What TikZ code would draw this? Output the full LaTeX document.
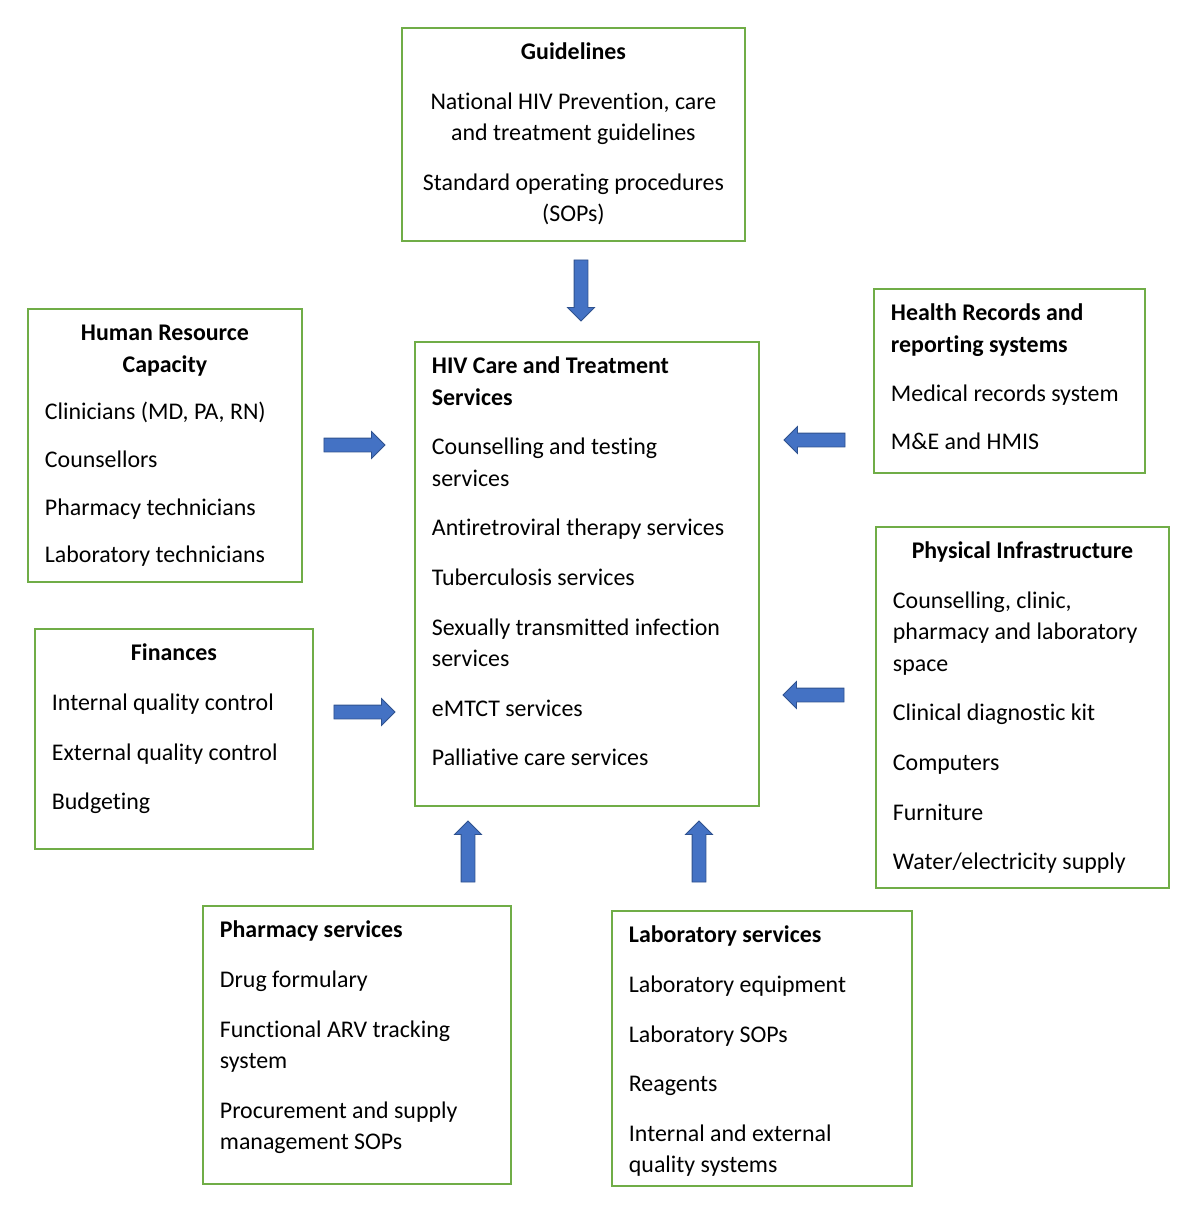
\documentclass[tikz,border=0pt]{standalone}
\usepackage{fontspec}
\setmainfont{Carlito}[Ligatures=NoCommon]
\usetikzlibrary{shapes.arrows}
\definecolor{boxgreen}{HTML}{70AD47}
\definecolor{arrowblue}{HTML}{4472C4}
\definecolor{arrowline}{HTML}{2F528F}
\newlength\pxu
\setlength\pxu{0.025cm}
% box body: [item gap], width, height (in px), contents
\newcommand\panelbody[4][13pt]{\parbox[c][\dimexpr#3\pxu-20\pxu\relax][t]{\dimexpr#2\pxu-34\pxu\relax}{\raggedright\setlength{\parskip}{#1}\strut#4}}
\newcommand\paneltitle[1]{{\centering\bfseries#1\par}}
\tikzset{
  panel/.style={draw=boxgreen, line width=1.3pt, anchor=north west, inner xsep=17\pxu, inner ysep=10\pxu,
    font=\fontsize{17}{22.3}\selectfont},
  blockarrow/.style={single arrow, fill=arrowblue, draw=arrowline, line width=0.6pt, inner sep=6.5\pxu,
    minimum height=61\pxu, minimum width=26\pxu, single arrow head extend=6.5\pxu}
}
\begin{document}
\begin{tikzpicture}[x=\pxu, y=-\pxu]
    \useasboundingbox (0,0) rectangle (1200,1218);
    % boxes
    \node[panel] (guide) at (401,27) {\panelbody{343}{213}{\centering{\bfseries Guidelines\par}
        National HIV Prevention, care\\and treatment guidelines\par
        Standard operating procedures\\(SOPs)}};
    \node[panel] (hr) at (27,308) {\panelbody[11.6pt]{274}{273}{\paneltitle{Human Resource\\Capacity}
        Clinicians (MD, PA, RN)\par Counsellors\par Pharmacy technicians\par Laboratory technicians}};
    \node[panel] (hiv) at (414,341) {\panelbody{344}{464}{{\bfseries HIV Care and Treatment\\Services\par}
        Counselling and testing\\services\par
        Antiretroviral therapy services\par
        Tuberculosis services\par
        Sexually transmitted infection\\services\par
        eMTCT services\par
        Palliative care services}};
    \node[panel] (rec) at (873,288) {\panelbody[12.4pt]{271}{184}{{\bfseries Health Records and\\reporting systems\par}
        Medical records system\par M\&E and HMIS}};
    \node[panel] (phys) at (875,526) {\panelbody{293}{361}{\paneltitle{Physical Infrastructure}
        Counselling, clinic,\\pharmacy and laboratory\\space\par
        Clinical diagnostic kit\par Computers\par Furniture\par Water/electricity supply}};
    \node[panel] (fin) at (34,628) {\panelbody{278}{220}{\paneltitle{Finances}
        Internal quality control\par External quality control\par Budgeting}};
    \node[panel] (pharm) at (202,905) {\panelbody{308}{278}{{\bfseries Pharmacy services\par}
        Drug formulary\par
        Functional ARV tracking\\system\par
        Procurement and supply\\management SOPs}};
    \node[panel] (lab) at (611,910) {\panelbody{300}{275}{{\bfseries Laboratory services\par}
        Laboratory equipment\par Laboratory SOPs\par Reagents\par
        Internal and external\\quality systems}};
    % block arrows
    \begin{scope}[every node/.style={blockarrow}]
        \node[shape border rotate=270] (aguide) at (581,287) {};
        \node (ahr) at (351,445) {};
        \node (afin) at (361,712) {};
        \node[shape border rotate=180] (arec) at (818,440) {};
        \node[shape border rotate=180] (aphys) at (817,695) {};
        \node[shape border rotate=90] (apharm) at (468,855) {};
        \node[shape border rotate=90] (alab) at (699,855) {};
    \end{scope}
\end{tikzpicture}
\end{document}
